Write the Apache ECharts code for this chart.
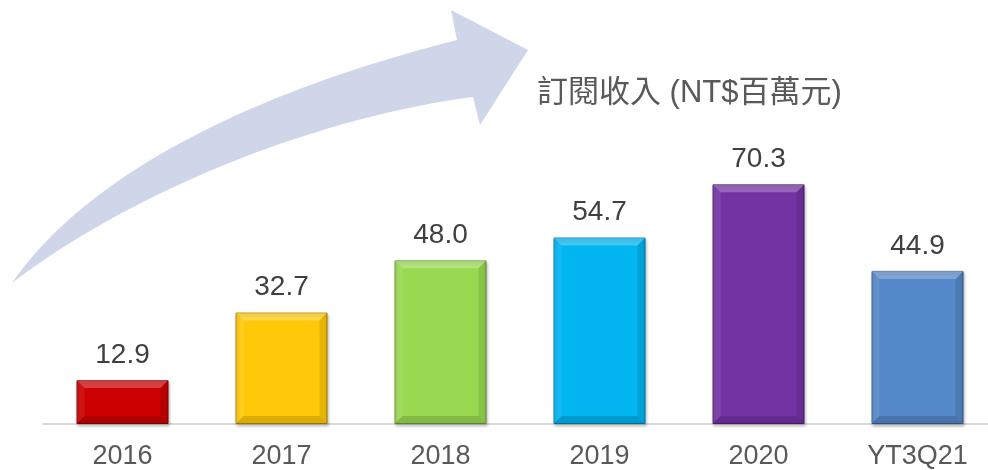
<!DOCTYPE html>
<html>
<head>
<meta charset="utf-8">
<script src="https://cdn.jsdelivr.net/npm/echarts@6/dist/echarts.min.js"></script>
<style>
  html, body { margin: 0; padding: 0; background: #fff; overflow: hidden; }
  #main { width: 997px; height: 470px; }
</style>
</head>
<body>
<div id="main"></div>
<script>
// 訂閱收入 (NT$百萬元)
const categories = ['2016', '2017', '2018', '2019', '2020', 'YT3Q21'];
const revenue = [12.9, 32.7, 48.0, 54.7, 70.3, 44.9];
const barColors = ['#cc0000', '#ffc90a', '#99d952', '#00b5f0', '#7433a3', '#5588c8'];
const edgeColors = ['#8a0000', '#b38c00', '#6a9a35', '#0080b0', '#4e2270', '#3a6090'];

const chart = echarts.init(document.getElementById('main'));
const font = '"Liberation Sans", Arial, "Noto Sans CJK TC", sans-serif';
const BAR_W = 92;
const BEVEL = 8;

// decorative growth arrow outline, sampled from two cubic curves
function cubic(p0, p1, p2, p3, n) {
    const pts = [];
    for (let i = 0; i <= n; i++) {
        const t = i / n, u = 1 - t;
        pts.push([
            u * u * u * p0[0] + 3 * u * u * t * p1[0] + 3 * u * t * t * p2[0] + t * t * t * p3[0],
            u * u * u * p0[1] + 3 * u * u * t * p1[1] + 3 * u * t * t * p2[1] + t * t * t * p3[1]
        ]);
    }
    return pts;
}
const arrowPts = []
    .concat(cubic([12, 283], [90, 170], [260, 90], [457, 40], 40))
    .concat([[451, 10], [528, 50], [480, 125]])
    .concat(cubic([473, 97], [300, 120], [120, 200], [12, 283], 40));

// bevel facets laid over each bar
function renderBevel(params, api) {
    const top = api.coord([api.value(0), api.value(1)]);
    const base = api.coord([api.value(0), 0]);
    const x0 = top[0] - BAR_W / 2, x1 = top[0] + BAR_W / 2;
    const y0 = top[1], y1 = base[1];
    const b = Math.min(BEVEL, (y1 - y0) / 2);
    const facet = (pts, fill) => ({ type: 'polygon', shape: { points: pts }, style: { fill: fill } });
    return {
        type: 'group',
        children: [
            facet([[x0, y0], [x1, y0], [x1 - b, y0 + b], [x0 + b, y0 + b]], 'rgba(255,255,255,0.25)'),
            facet([[x0, y0], [x0 + b, y0 + b], [x0 + b, y1 - b], [x0, y1]], 'rgba(255,255,255,0.08)'),
            facet([[x1, y0], [x1, y1], [x1 - b, y1 - b], [x1 - b, y0 + b]], 'rgba(0,0,0,0.10)'),
            facet([[x0, y1], [x1, y1], [x1 - b, y1 - b], [x0 + b, y1 - b]], 'rgba(0,0,0,0.14)')
        ]
    };
}

chart.setOption({
    animation: false,
    backgroundColor: '#fff',
    textStyle: { fontFamily: font },
    graphic: [
        {
            type: 'polygon',
            z: -10,
            shape: { points: arrowPts },
            style: { fill: '#d0d6ea' }
        },
        {
            type: 'text',
            left: 537,
            top: 78,
            style: {
                text: '訂閱收入 (NT$百萬元)',
                fill: '#595959',
                font: '31px ' + font
            }
        }
    ],
    grid: { left: 43, right: 0, top: 83, bottom: 44 },
    xAxis: {
        type: 'category',
        data: categories,
        axisTick: { show: false },
        axisLine: { lineStyle: { color: '#d9d9d9', width: 2 } },
        axisLabel: { color: '#595959', fontSize: 27, margin: 19 }
    },
    yAxis: {
        type: 'value',
        min: 0,
        max: 100,
        show: false,
        splitLine: { show: false }
    },
    series: [
        {
            type: 'bar',
            barWidth: BAR_W,
            data: revenue.map((v, i) => ({
                value: v,
                itemStyle: {
                    color: barColors[i],
                    borderColor: edgeColors[i],
                    borderWidth: 1,
                    shadowColor: 'rgba(0,0,0,0.25)',
                    shadowBlur: 3,
                    shadowOffsetX: 1,
                    shadowOffsetY: 2
                }
            })),
            label: {
                show: true,
                position: 'top',
                distance: 11,
                color: '#404040',
                fontSize: 28,
                formatter: p => p.value.toFixed(1)
            }
        },
        {
            type: 'custom',
            renderItem: renderBevel,
            silent: true,
            z: 3,
            data: revenue.map((v, i) => [i, v])
        }
    ]
});
</script>
</body>
</html>
